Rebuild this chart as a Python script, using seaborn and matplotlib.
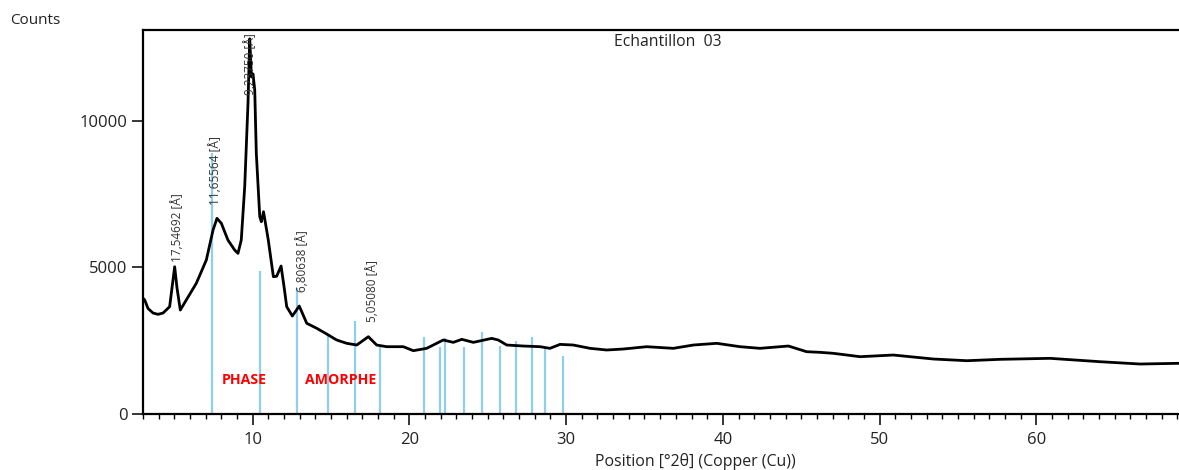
import matplotlib
matplotlib.use("Agg")
import matplotlib.pyplot as plt
from matplotlib.ticker import MultipleLocator
import numpy as np
import pandas as pd
import seaborn as sns

# ---- data ----
two_theta = [3.00, 3.11, 3.32, 3.64, 3.96, 4.28, 4.70, 4.85, 5.02, 5.17, 5.38, 5.76,
             6.40, 7.04, 7.47, 7.72, 8.00, 8.42, 8.85, 9.06, 9.27, 9.49, 9.70, 9.81,
             9.92, 10.02, 10.13, 10.23, 10.45, 10.55, 10.69, 10.99, 11.32, 11.53,
             11.81, 12.00, 12.17, 12.53, 12.97, 13.45, 14.09, 14.72, 15.36, 16.00,
             16.64, 17.38, 17.91, 18.55, 19.61, 20.25, 21.10, 22.16, 22.80, 23.34,
             24.08, 25.25, 25.67, 26.21, 27.27, 28.34, 28.97, 29.61, 30.46, 31.53,
             32.59, 33.65, 35.14, 36.84, 38.12, 39.61, 41.10, 42.37, 44.18, 45.35,
             46.20, 47.05, 48.76, 50.88, 53.43, 55.57, 57.69, 60.88, 64.07, 66.62,
             69.11, 70.00]
counts = [3950, 3888, 3600, 3445, 3400, 3445, 3660, 4300, 5024, 4300, 3547, 3888,
          4457, 5252, 6276, 6675, 6504, 5934, 5593, 5480, 5934, 7752, 10607, 12800,
          11500, 11600, 11050, 8900, 6730, 6560, 6900, 5950, 4683, 4700,
          5048, 4342, 3660, 3342, 3683, 3093, 2923, 2728, 2524, 2411,
          2353, 2637, 2353, 2296, 2296, 2160, 2240, 2524, 2444, 2547,
          2444, 2580, 2524, 2353, 2319, 2296, 2240, 2375, 2353, 2240,
          2183, 2217, 2296, 2240, 2353, 2411, 2296, 2240, 2319, 2125,
          2104, 2070, 1955, 2012, 1876, 1818, 1865, 1899, 1784, 1705,
          1729, 1720]

stick_pos = [7.38, 10.45, 12.81, 14.79, 16.54, 18.12, 20.96, 21.94, 22.25, 23.47,
             24.63, 25.76, 26.82, 27.84, 28.63, 29.83]
stick_h = [8900, 4888, 4287, 2720, 3183, 2296, 2615, 2296, 2580, 2296,
           2797, 2319, 2500, 2626, 2296, 1978]

peak_labels = ["17,54692 [Å]", "11,65564 [Å]", "9,23750 [Å]", "6,80638 [Å]", "5,05080 [Å]"]
peak_label_x = [5.17, 7.60, 9.83, 13.15, 17.65]
peak_label_y = [5184, 7128, 10880, 4161, 3138]

phase_texts = ["PHASE", "AMORPHE"]
phase_x = [9.45, 15.6]
phase_y = [1160, 1160]

x_ticks = [10, 20, 30, 40, 50, 60]
y_ticks = [0, 5000, 10000]

# ---- figure ----
sns.set_style("ticks")
plt.rcParams["font.family"] = ["Open Sans", "DejaVu Sans"]

fig = plt.figure(figsize=(11.79, 4.70), dpi=100)
ax = fig.add_axes([143 / 1179, 56 / 470, 1050 / 1179, 384 / 470])

df = pd.DataFrame({"two_theta": two_theta, "counts": counts})
ax.vlines(stick_pos, 0, stick_h, color="#8fcfea", lw=1.6, zorder=1)
sns.lineplot(data=df, x="two_theta", y="counts", ax=ax, color="black", lw=2.0,
             sort=True, zorder=3)

for t, x, y in zip(peak_labels, peak_label_x, peak_label_y):
    ax.text(x, y, t, rotation=90, ha="center", va="bottom", fontsize=8.5,
            color="#333333", zorder=4)

for t, x, y in zip(phase_texts, phase_x, phase_y):
    ax.text(x, y, t, ha="center", va="center", fontsize=10.2, color="red",
            fontweight="bold", zorder=4)

ax.set_xlim(3, 70)
ax.set_ylim(0, 13100)
ax.set_xticks(x_ticks)
ax.set_yticks(y_ticks)
ax.xaxis.set_minor_locator(MultipleLocator(1))
ax.tick_params(axis="both", which="major", direction="out", length=8, width=1.1,
               labelsize=12, color="black", labelcolor="#222222")
ax.tick_params(axis="x", which="major", pad=5)
ax.tick_params(axis="y", which="major", pad=3)
ax.tick_params(axis="x", which="minor", direction="out", length=3.5, width=1.0,
               color="black")
ax.set_xlabel("")
ax.set_ylabel("")
for s in ["left", "bottom", "top"]:
    ax.spines[s].set_linewidth(1.6)
    ax.spines[s].set_color("black")
ax.spines["right"].set_visible(False)

ax.text(0.5, 1 - 12 / 384, "Echantillon  03", transform=ax.transAxes,
        ha="center", va="center", fontsize=11.3, color="#222222")
fig.text(10 / 1179, 1 - 20 / 470, "Counts", ha="left", va="center",
         fontsize=11, color="#222222")
fig.text(695 / 1179, 1 - 462 / 470, "Position [°2θ] (Copper (Cu))",
         ha="center", va="center", fontsize=11.4, color="#222222")

fig.savefig("out.png", dpi=100)
